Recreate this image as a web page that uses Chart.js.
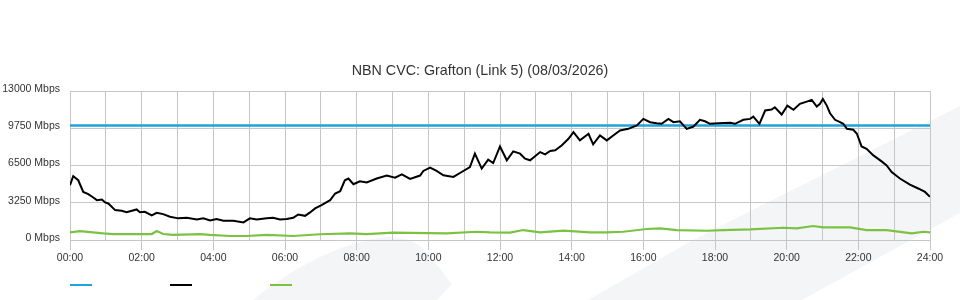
<!DOCTYPE html>
<html>
<head>
<meta charset="utf-8">
<script src="https://cdn.jsdelivr.net/npm/chart.js@4"></script>
<style>
  html, body { margin: 0; padding: 0; background: #ffffff; }
  #wrap { position: relative; width: 960px; height: 300px; overflow: hidden; }
  #bg { position: absolute; left: 0; top: 0; }
  #chart { position: absolute; left: 0; top: 0; }
</style>
</head>
<body>
<div id="wrap">
  <svg id="bg" width="960" height="300" viewBox="0 0 960 300">
    <path d="M253,300 C290,270 330,248 372,239 C395,235 412,238 422,248 C435,262 444,274 452,284 L437,300 Z" fill="#f4f5f7"/>
    <path d="M588,300 L693,240 L960,106 L960,213 L802,300 Z" fill="#f4f5f7"/>
  </svg>
  <canvas id="chart" width="960" height="300"></canvas>
</div>
<script>
// ---- data (hours of day / Mbps) ----
const chartTitle = 'NBN CVC: Grafton (Link 5) (08/03/2026)';
const capacityTimes = [0, 24];
const capacityValues = [10000, 10000];

const trafficTimes = [0.00,0.09,0.23,0.37,0.51,0.65,0.75,0.89,0.98,1.07,1.26,1.44,1.58,1.86,1.95,2.09,2.28,2.42,2.60,2.79,3.02,3.26,3.54,3.72,3.91,4.09,4.28,4.56,4.84,5.02,5.21,5.49,5.67,5.86,6.05,6.23,6.37,6.56,6.70,6.84,7.02,7.26,7.40,7.54,7.67,7.77,7.91,8.09,8.28,8.56,8.84,9.07,9.26,9.49,9.77,9.86,10.05,10.23,10.42,10.70,10.93,11.16,11.30,11.49,11.67,11.81,12.00,12.19,12.37,12.56,12.70,12.84,13.12,13.26,13.40,13.54,13.72,13.91,14.05,14.23,14.47,14.60,14.79,14.98,15.16,15.35,15.58,15.82,16.00,16.19,16.37,16.51,16.70,16.84,17.02,17.21,17.40,17.58,17.72,17.86,18.09,18.42,18.56,18.79,18.98,19.07,19.24,19.40,19.58,19.67,19.86,20.02,20.19,20.37,20.56,20.70,20.84,20.93,21.01,21.12,21.21,21.35,21.49,21.58,21.68,21.86,21.96,22.09,22.23,22.42,22.65,22.79,22.93,23.16,23.44,23.67,23.86,24.00];
const trafficValues = [4780,5570,5220,4200,4000,3710,3480,3540,3280,3190,2610,2550,2430,2670,2430,2460,2150,2370,2260,2030,1890,1940,1800,1890,1710,1830,1680,1680,1540,1890,1800,1890,1940,1800,1830,1940,2230,2110,2410,2760,3040,3480,4060,4260,5220,5370,4870,5130,5020,5370,5630,5450,5740,5330,5630,6030,6320,6030,5650,5510,5940,6370,7540,6240,7020,6720,8170,6960,7740,7540,7110,6960,7680,7480,7770,7830,8260,8840,9420,8700,9280,8350,9130,8700,9130,9570,9710,10000,10580,10290,10200,10150,10580,10290,10370,9710,9910,10500,10370,10150,10200,10240,10150,10500,10580,10780,10150,11310,11390,11590,10960,11740,11370,11890,12090,12240,11650,11890,12320,11740,11070,10500,10290,10150,9710,9630,9280,8170,7970,7390,6870,6520,5940,5370,4840,4500,4200,3770];

const upTimes = [0,0.28,0.93,1.21,1.58,2.05,2.28,2.42,2.60,2.88,3.63,3.91,4.47,4.93,5.49,6.23,6.98,7.81,8.28,9.02,10.51,11.35,11.72,12.28,12.65,13.12,13.77,14.51,14.98,15.44,16.09,16.47,16.93,17.77,18.23,18.98,19.91,20.28,20.74,21.02,21.77,22.23,22.79,23.49,23.81,24];
const upValues = [670,780,580,520,520,520,520,780,520,440,520,440,350,350,440,350,500,580,520,640,580,720,670,640,870,670,810,670,670,720,960,1020,870,810,870,930,1070,1020,1220,1100,1100,870,870,580,720,670];

const xTickHours = [0,2,4,6,8,10,12,14,16,18,20,22,24];
const yTicks = [0,3250,6500,9750,13000];

const colCapacity = '#1ea3dd';
const colTraffic = '#000000';
const colUp = '#7cc242';
const gridColor = '#c6c6c6';
const fontFam = '"Liberation Sans", Arial, Helvetica, sans-serif';

function pts(ts, vs) { return ts.map((t, i) => ({ x: t, y: vs[i] })); }
function swatch(color) {
  const c = document.createElement('canvas');
  c.width = 95; c.height = 4;
  const g = c.getContext('2d');
  g.fillStyle = color;
  g.fillRect(0, 1, 22, 2);
  return c;
}
function hh(v) { return (v < 10 ? '0' : '') + v + ':00'; }

new Chart(document.getElementById('chart'), {
  type: 'line',
  data: {
    datasets: [
      { label: 'Capacity', data: pts(capacityTimes, capacityValues), borderColor: colCapacity, backgroundColor: colCapacity, borderWidth: 2.5, pointRadius: 0, order: 3 },
      { label: 'Download', data: pts(trafficTimes, trafficValues), borderColor: colTraffic, backgroundColor: colTraffic, borderWidth: 2, pointRadius: 0, order: 1 },
      { label: 'Upload', data: pts(upTimes, upValues), borderColor: colUp, backgroundColor: colUp, borderWidth: 2.2, pointRadius: 0, order: 2 }
    ]
  },
  options: {
    responsive: false,
    animation: false,
    layout: { padding: 0 },
    plugins: {
      title: {
        display: true,
        text: chartTitle,
        color: '#333333',
        font: { family: fontFam, size: 14.3, weight: 'normal', lineHeight: 1.2 },
        padding: { top: 62, bottom: 12 }
      },
      legend: {
        display: true,
        position: 'bottom',
        align: 'start',
        fullSize: false,
        labels: {
          usePointStyle: true,
          pointStyleWidth: 95,
          padding: 0,
          font: { family: fontFam, size: 10 },
          generateLabels: (chart) => chart.data.datasets.map((ds, i) => ({
            text: '',
            pointStyle: swatch(ds.borderColor),
            fillStyle: ds.borderColor,
            strokeStyle: ds.borderColor,
            lineWidth: 0,
            hidden: !chart.isDatasetVisible(i),
            datasetIndex: i
          }))
        }
      },
      tooltip: { enabled: false }
    },
    scales: {
      x: {
        type: 'linear',
        min: 0, max: 24,
        afterBuildTicks: (s) => { s.ticks = Array.from({ length: 25 }, (_, h) => ({ value: h })); },
        afterFit: (s) => { s.height = 40; },
        ticks: {
          autoSkip: false, maxRotation: 0, padding: 2,
          color: '#333333',
          font: { family: fontFam, size: 10.5 },
          callback: (v) => xTickHours.includes(v) ? hh(v) : ''
        },
        grid: {
          color: gridColor,
          lineWidth: 1,
          tickLength: 10,
          tickColor: (ctx) => (ctx.tick && xTickHours.includes(ctx.tick.value)) ? gridColor : 'rgba(0,0,0,0)'
        },
        border: { display: false }
      },
      y: {
        type: 'linear',
        position: 'left',
        min: 0, max: 13000,
        afterBuildTicks: (s) => { s.ticks = yTicks.map(v => ({ value: v })); },
        afterFit: (s) => { s.width = 70; },
        ticks: {
          padding: 10,
          labelOffset: -2,
          color: '#333333',
          font: { family: fontFam, size: 10.5 },
          callback: (v) => v + ' Mbps'
        },
        grid: { color: gridColor, lineWidth: 1, drawTicks: false },
        border: { display: false }
      },
      yRight: {
        type: 'linear',
        position: 'right',
        display: true,
        afterFit: (s) => { s.width = 30; },
        ticks: { display: false },
        grid: { display: false, drawTicks: false },
        border: { display: false }
      }
    }
  }
});
</script>
</body>
</html>
